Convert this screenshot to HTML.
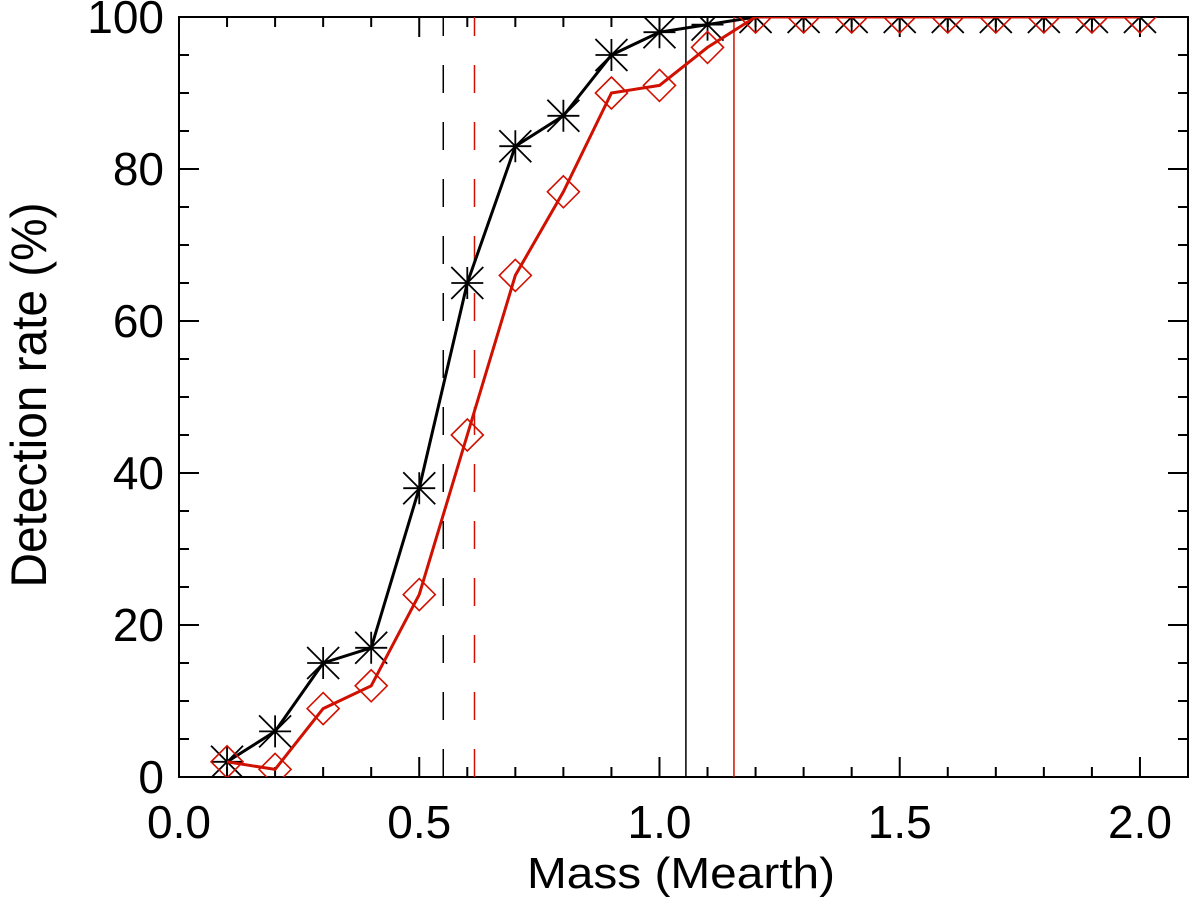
<!DOCTYPE html>
<html><head><meta charset="utf-8"><style>
body{margin:0;background:#fff;}
svg text{font-family:"Liberation Sans",sans-serif;}
</style></head><body>
<svg id="chart" width="1200" height="903" xmlns="http://www.w3.org/2000/svg">
<defs><clipPath id="clip"><rect x="179" y="17" width="1009" height="760"/></clipPath></defs>
<g id="axes"></g>
<g id="vlines" clip-path="url(#clip)"></g>
<g id="series" clip-path="url(#clip)"></g>
<text x="681" y="888" font-size="44" text-anchor="middle" textLength="308" lengthAdjust="spacingAndGlyphs">Mass (Mearth)</text>
<text transform="translate(46,395) rotate(-90)" font-size="50" text-anchor="middle" textLength="385" lengthAdjust="spacingAndGlyphs">Detection rate (%)</text>
</svg>
<script>
const masses=[0.1,0.2,0.3,0.4,0.5,0.6,0.7,0.8,0.9,1.0,1.1,1.2,1.3,1.4,1.5,1.6,1.7,1.8,1.9,2.0];
const blackRate=[2,6,15,17,38,65,83,87,95,98,99,100,100,100,100,100,100,100,100,100];
const redRate=[2,1,9,12,24,45,66,77,90,91,96,100,100,100,100,100,100,100,100,100];
const xTickLabels=["0.0","0.5","1.0","1.5","2.0"];
const yTickLabels=["0","20","40","60","80","100"];
const blackDashed=0.55, redDashed=0.615, blackSolid=1.055, redSolid=1.155;
const X0=179,X1=1188,Y0=777,Y1=17;
const sx=v=>X0+(v/2.1)*(X1-X0);
const sy=v=>Y0-(v/100)*(Y0-Y1);
const NS="http://www.w3.org/2000/svg";
function mk(tag,attrs,parent){const e=document.createElementNS(NS,tag);for(const k in attrs)e.setAttribute(k,attrs[k]);parent.appendChild(e);return e;}
const axes=document.getElementById('axes');
let f=mk('rect',{x:X0,y:Y1,width:X1-X0,height:Y0-Y1,fill:'none',stroke:'#000','stroke-width':2},axes);


for(let i=0;i<=21;i++){const v=i*0.1,x=sx(v),major=i%5===0,L=major?20:10;
 let t=mk('path',{d:`M${x},${Y0}v${-L}M${x},${Y1}v${L}`,stroke:'#000','stroke-width':2},axes);
 
 
 if(major&&xTickLabels[i/5]){let tx=mk('text',{x:x,y:838,'font-size':46,'text-anchor':'middle'},axes);tx.textContent=xTickLabels[i/5];
 
 }}
for(let i=0;i<=20;i++){const v=i*5,y=sy(v),major=i%4===0,L=major?20:10;
 let t=mk('path',{d:`M${X0},${y}h${L}M${X1},${y}h${-L}`,stroke:'#000','stroke-width':2},axes);
 
 
 if(major){let tx=mk('text',{x:164,y:y+16,'font-size':46,'text-anchor':'end'},axes);tx.textContent=yTickLabels[i/4];
 
 }}
const vl=document.getElementById('vlines');
[[blackDashed,'#000','28,29'],[redDashed,'#d01000','28,29'],[blackSolid,'#000',''],[redSolid,'#d01000','']].forEach(([v,c,d])=>{
 let l=mk('line',{x1:sx(v),x2:sx(v),y1:Y0,y2:Y1,stroke:c,'stroke-width':1.5,'stroke-dasharray':d},vl);
 
 });
const sg=document.getElementById('series');
function series(vals,color,kind){
 const pts=masses.map((m,i)=>[sx(m),sy(vals[i])]);
 let p=mk('polyline',{points:pts.map(p=>p.join(',')).join(' '),fill:'none',stroke:color,'stroke-width':3},sg);
 
 
 pts.forEach(([x,y])=>{let d,s=16;
  if(kind==='star'){d=`M${x-s},${y}h${2*s}M${x},${y-s}v${2*s}M${x-s},${y-s}L${x+s},${y+s}M${x-s},${y+s}L${x+s},${y-s}`;}
  else d=`M${x},${y-s}L${x+s},${y}L${x},${y+s}L${x-s},${y}Z`;
  let m=mk('path',{d:d,fill:'none',stroke:color,'stroke-width':kind==='star'?1.8:1.6},sg);
  
  });
}
series(blackRate,'#000','star');
series(redRate,'#d01000','diamond');
</script>
</body></html>
